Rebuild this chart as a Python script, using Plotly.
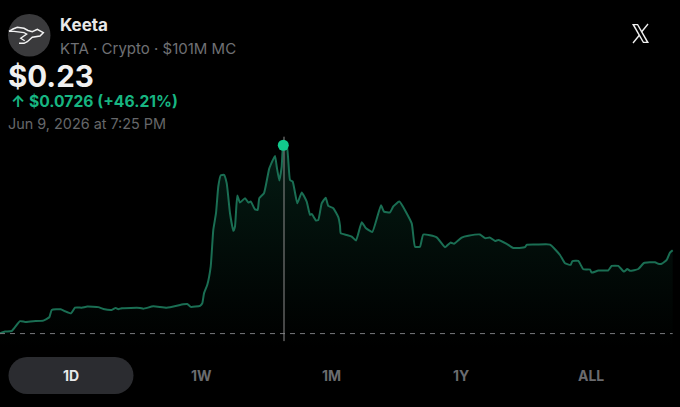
import plotly.graph_objects as go

# Time position along the 1D window (0-680 scale) and price in USD
time_pos = [0,5,11.7,20,25,33.3,43.3,49.3,51.7,60.7,65,71,75,81.7,87.3,98.3,103.3,111.7,115.7,118.3,121.7,140,143.3,153.3,166.7,183.3,187.3,190.7,200,202.3,204,207.3,210.7,213.3,216,218.3,220.7,224,226.7,230,233.3,235,237.3,240,245,248.3,250.7,255,257.7,259.3,264,269.3,275,276.7,279.3,281.7,283.3,286.7,290,292.7,297.3,301.7,306.7,310,311.7,316,318.3,321.7,325.7,328.3,333.3,338.3,340,340.7,346.7,351.7,356,361.7,366,372.3,381,384,390,393.3,399.3,411.7,415,420,423.3,436.7,445,450.7,454,461.7,468.3,480,485,490,495,498.3,506.7,513.3,525,526.7,536.7,550,560,565,570.7,572.3,578.3,583.3,590,591.7,598.3,608.3,611.7,618.3,624,627.3,630,638.3,644,655,658.3,661.7,666.7,670,672.7]
price = [.1575,.1582,.1584,.1622,.1619,.1622,.1624,.1637,.1665,.1668,.1660,.1652,.1674,.1674,.1678,.1676,.1669,.1665,.1673,.1668,.1672,.1673,.1670,.1679,.1674,.1687,.1688,.1677,.1681,.1691,.1729,.1762,.1832,.1974,.2038,.2141,.2184,.2186,.2154,.2038,.1970,.1987,.2106,.2079,.2096,.2079,.2083,.2053,.2051,.2096,.2115,.2211,.2259,.2218,.2164,.2218,.2300,.2300,.2166,.2160,.2076,.2118,.2083,.2032,.2035,.2010,.2012,.2076,.2098,.2066,.2057,.2023,.1990,.1961,.1954,.1948,.1933,.2003,.1980,.1966,.2069,.2044,.2041,.2064,.2083,.1999,.1909,.1909,.1956,.1945,.1907,.1925,.1920,.1944,.1951,.1956,.1942,.1944,.1931,.1935,.1920,.1904,.1907,.1916,.1917,.1917,.1877,.1845,.1839,.1853,.1854,.1822,.1821,.1809,.1817,.1818,.1835,.1835,.1813,.1823,.1816,.1823,.1846,.1849,.1843,.1843,.1858,.1886,.1895]
baseline_price = 0.1574
ranges = ["1D", "1W", "1M", "1Y", "ALL"]

W, H = 680, 407
peak_index = price.index(max(price))
peak_x, peak_y = time_pos[peak_index], price[peak_index]

def px(v): return v / W
def py(v): return 1 - v / H

fig = go.Figure()
fig.add_trace(go.Scatter(
    x=time_pos, y=price, mode="lines", line=dict(color="#1a6e53", width=2, shape="spline", smoothing=0.4),
    fill="tozeroy",
    fillgradient=dict(type="vertical", start=0.152, stop=0.230,
                      colorscale=[[0, "rgba(6,40,28,0)"], [1, "rgba(8,48,34,0.6)"]]),
    hoverinfo="skip", showlegend=False))
fig.add_trace(go.Scatter(x=[0, time_pos[-1]], y=[baseline_price]*2, mode="lines",
                         line=dict(color="#77797c", width=1, dash="5px,5px"),
                         hoverinfo="skip", showlegend=False))
fig.add_trace(go.Scatter(x=[peak_x+0.7]*2, y=[0.1545, 0.2333], mode="lines",
                         line=dict(color="#8c8c8c", width=1), hoverinfo="skip", showlegend=False))
fig.add_trace(go.Scatter(x=[peak_x], y=[peak_y], mode="markers",
                         marker=dict(color="#12c98c", size=11), hoverinfo="skip", showlegend=False))

FONT = "Inter, Liberation Sans, sans-serif"
def text(s, x, y, size, color, bold=False, anchor="left"):
    fig.add_annotation(xref="paper", yref="paper", x=px(x), y=py(y), text=f"<b>{s}</b>" if bold else s,
                       showarrow=False, xanchor=anchor, yanchor="middle", xshift=-2 if anchor == "left" else 0,
                       font=dict(family=FONT, size=size, color=color))

text("Keeta", 60, 25, 17, "#e8e8e8", True)
text("KTA · Crypto · $101M MC", 60, 49, 15, "#6f7074")
text("$0.23", 8, 76, 29.5, "#f0f0f0", True)
text("↑ $0.0726 (+46.21%)", 11, 102, 15.7, "#17b581", True)
text("Jun 9, 2026 at 7:25 PM", 8, 123, 14.4, "#66676a")

centers = [71, 201, 331, 461, 591]
for i, (r, c) in enumerate(zip(ranges, centers)):
    text(r, c, 375.5, 14, "#e8e8e8" if i == 0 else "#6a6b6e", True, "center")

shapes = []
shapes.append(dict(type="circle", xref="paper", yref="paper", x0=px(8), x1=px(50.5), y0=py(14), y1=py(56.5),
                   fillcolor="#3a3a3c", line=dict(width=0), layer="below"))
def path(points, close=False):
    d = "M" + " L".join(f"{px(x):.5f},{py(y):.5f}" for x, y in points)
    return d + (" Z" if close else "")
# stylised logo animal
shapes.append(dict(type="path", xref="paper", yref="paper", line=dict(color="#f2f2f2", width=1.5),
                   path=path([(9, 31.3), (13, 29), (17.3, 27.3), (24, 28.3), (28, 30.5), (32.3, 31.7), (37.3, 29.3), (43.3, 32.7), (40, 36), (32.3, 37.3), (27.3, 41.7), (24, 43.3), (19, 43.3)])))
shapes.append(dict(type="path", xref="paper", yref="paper", line=dict(color="#f2f2f2", width=1.3),
                   path=path([(9, 31.3), (14, 31.3), (24, 32.7), (26.7, 34), (20.7, 38.3), (24.7, 40.7)])))
# X mark
shapes.append(dict(type="path", xref="paper", yref="paper", line=dict(width=0), fillcolor="#f0f0f0",
                   path=path([(632, 24), (638, 24), (649, 43), (643, 43)], True)))
shapes.append(dict(type="path", xref="paper", yref="paper", line=dict(width=0), fillcolor="#000000",
                   path=path([(634.5, 25.2), (637.2, 25.2), (646.5, 41.8), (643.8, 41.8)], True)))
shapes.append(dict(type="path", xref="paper", yref="paper", line=dict(color="#f0f0f0", width=1.3),
                   path=path([(648, 24), (641.5, 32)])))
shapes.append(dict(type="path", xref="paper", yref="paper", line=dict(color="#f0f0f0", width=1.3),
                   path=path([(639.5, 35), (633, 43)])))
# selected-range pill
x0, x1, y0, y1, r = 8.5, 133.5, 357, 394, 18.5
def pt(x, y): return f"{px(x):.5f},{py(y):.5f}"
pill = (f"M{pt(x0+r,y0)} L{pt(x1-r,y0)} C{pt(x1-r*.45,y0)} {pt(x1,y0+r*.45)} {pt(x1,y0+r)} "
        f"C{pt(x1,y1-r*.45)} {pt(x1-r*.45,y1)} {pt(x1-r,y1)} L{pt(x0+r,y1)} "
        f"C{pt(x0+r*.45,y1)} {pt(x0,y1-r*.45)} {pt(x0,y0+r)} C{pt(x0,y0+r*.45)} {pt(x0+r*.45,y0)} {pt(x0+r,y0)} Z")
shapes.append(dict(type="path", xref="paper", yref="paper", path=pill,
                   fillcolor="#2b2c30", line=dict(width=0), layer="below"))

fig.update_layout(
    width=W, height=H, margin=dict(l=0, r=0, t=0, b=0), autosize=False,
    paper_bgcolor="#000000", plot_bgcolor="#000000", showlegend=False, shapes=shapes,
    xaxis=dict(range=[0, W], visible=False, fixedrange=True),
    yaxis=dict(range=[0.1291, 0.2860], visible=False, fixedrange=True),
)
fig.write_html("out.html", config={"displayModeBar": False},
               post_script="document.documentElement.style.background='#000';document.body.style.margin='0';document.body.style.background='#000';")
